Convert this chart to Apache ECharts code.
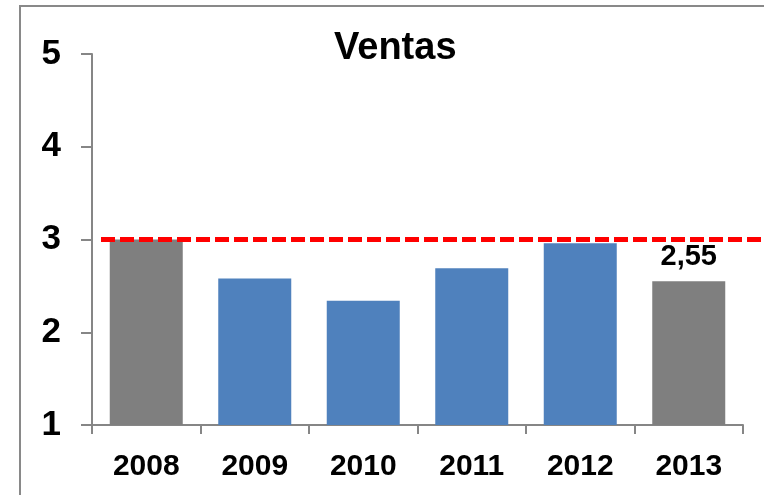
<!DOCTYPE html>
<html>
<head>
<meta charset="utf-8">
<script src="https://cdn.jsdelivr.net/npm/echarts@6/dist/echarts.min.js"></script>
<style>
  html, body { margin: 0; padding: 0; background: #fff; }
  #main { width: 764px; height: 495px; }
</style>
</head>
<body>
<div id="main"></div>
<script>
const years = ['2008', '2009', '2010', '2011', '2012', '2013'];
const ventas = [3.0, 2.58, 2.34, 2.69, 2.96, 2.55];
const greyYears = ['2008', '2013']; // barras en gris
const labelYear = '2013';
const objetivo = 3;

const chart = echarts.init(document.getElementById('main'));

function getBarData() {
    return ventas.map(function (v, i) {
        let item = {
            value: v,
            itemStyle: {
                color: greyYears.indexOf(years[i]) >= 0 ? '#7f7f7f' : '#4f81bd'
            }
        };
        if (years[i] === labelYear) {
            item.label = {
                show: true,
                position: 'top',
                distance: 10,
                formatter: function (p) {
                    return String(p.value).replace('.', ',');
                },
                fontFamily: 'Liberation Sans, Arial, sans-serif',
                fontWeight: 'bold',
                fontSize: 29,
                color: '#000'
            };
        }
        return item;
    });
}

chart.setOption({
    animation: false,
    graphic: [{
        type: 'rect',
        shape: { x: 20, y: 6, width: 800, height: 600 },
        style: { fill: 'none', stroke: '#898989', lineWidth: 2 },
        silent: true
    }],
    title: {
        text: 'Ventas',
        left: 329,
        top: 25,
        textStyle: {
            fontFamily: 'Liberation Sans, Arial, sans-serif',
            fontWeight: 'bold',
            fontSize: 38,
            color: '#000'
        }
    },
    grid: {
        left: 92,
        right: 21,
        top: 54,
        bottom: 70
    },
    xAxis: {
        type: 'category',
        data: years,
        axisLine: { lineStyle: { color: '#868686', width: 2 } },
        axisTick: { show: true, length: 9, lineStyle: { color: '#868686', width: 2 } },
        axisLabel: {
            margin: 27,
            fontFamily: 'Liberation Sans, Arial, sans-serif',
            fontWeight: 'bold',
            fontSize: 30,
            color: '#000'
        }
    },
    yAxis: {
        type: 'value',
        min: 1,
        max: 5,
        interval: 1,
        splitLine: { show: false },
        axisLine: { show: true, lineStyle: { color: '#868686', width: 2 } },
        axisTick: { show: true, length: 11, lineStyle: { color: '#868686', width: 2 } },
        axisLabel: {
            margin: 31,
            fontFamily: 'Liberation Sans, Arial, sans-serif',
            fontWeight: 'bold',
            fontSize: 35,
            color: '#000'
        }
    },
    series: [{
        name: 'Ventas',
        type: 'bar',
        barWidth: 73,
        data: getBarData(),
        markLine: {
            silent: true,
            symbol: ['none', 'none'],
            label: { show: false },
            lineStyle: { color: '#ff0000', width: 5, type: [14, 5] },
            data: [[
                { yAxis: objetivo, x: 101 },
                { yAxis: objetivo, x: 764 }
            ]]
        }
    }]
});
</script>
</body>
</html>
